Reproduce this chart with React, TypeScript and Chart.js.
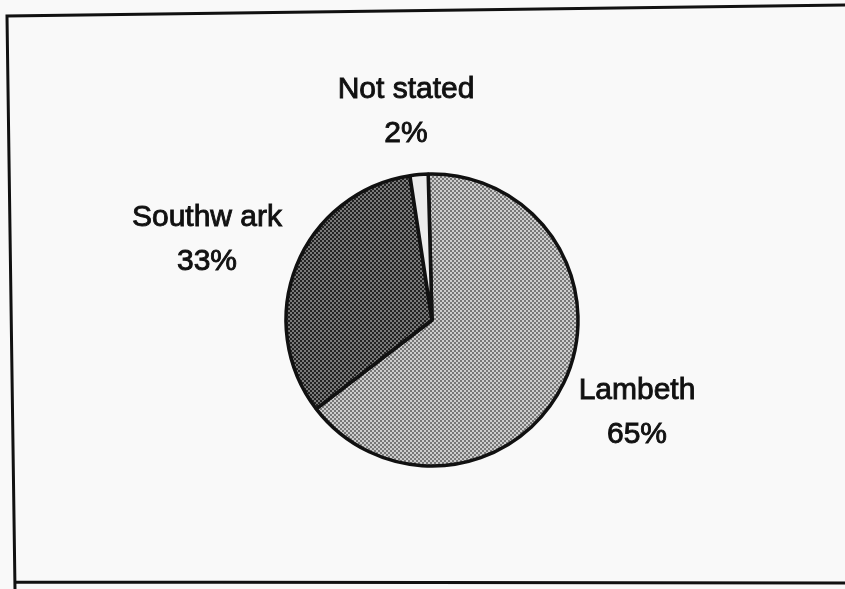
import React, { useEffect, useRef } from "react";
import { Chart, registerables } from "chart.js";

Chart.register(...registerables);

const categories = ["Lambeth", "Southw ark", "Not stated"];
const shares = [65, 33, 2];
const percentLabels = ["65%", "33%", "2%"];

function makePattern(light: string, dark: string): CanvasPattern | string {
  const tile = document.createElement("canvas");
  tile.width = 4;
  tile.height = 4;
  const c = tile.getContext("2d");
  if (!c) return light;
  c.fillStyle = light;
  c.fillRect(0, 0, 4, 4);
  c.fillStyle = dark;
  c.fillRect(0, 0, 2, 2);
  c.fillRect(2, 2, 2, 2);
  const p = c.createPattern(tile, "repeat");
  return p || light;
}

const framePlugin = {
  id: "frame",
  beforeDraw(chart: any) {
    const ctx = chart.ctx;
    ctx.save();
    ctx.fillStyle = "#f9f9f9";
    ctx.fillRect(0, 0, chart.width, chart.height);
    ctx.restore();
  },
  afterDraw(chart: any) {
    const ctx = chart.ctx;
    ctx.save();
    ctx.strokeStyle = "#111111";
    ctx.lineWidth = 3;
    ctx.beginPath();
    ctx.moveTo(850, 5);
    ctx.lineTo(7, 16);
    ctx.lineTo(15, 589);
    ctx.moveTo(15, 582);
    ctx.lineTo(850, 583);
    ctx.stroke();
    ctx.restore();
  },
};

const labelAnchors = [
  { x: 637, y: 399 },
  { x: 207, y: 226 },
  { x: 406, y: 98 },
];

const labelPlugin = {
  id: "sliceLabels",
  afterDatasetsDraw(chart: any) {
    const ctx = chart.ctx;
    const names = chart.data.labels as string[];
    ctx.save();
    ctx.fillStyle = "#111111";
    ctx.strokeStyle = "#111111";
    ctx.lineWidth = 0.9;
    ctx.font = '30px "Liberation Sans", Arial, sans-serif';
    ctx.textAlign = "center";
    ctx.textBaseline = "alphabetic";
    names.forEach((name, i) => {
      const a = labelAnchors[i];
      ctx.fillText(name, a.x, a.y);
      ctx.strokeText(name, a.x, a.y);
      ctx.fillText(percentLabels[i], a.x, a.y + 44);
      ctx.strokeText(percentLabels[i], a.x, a.y + 44);
    });
    ctx.restore();
  },
};

export default function App() {
  const ref = useRef<HTMLCanvasElement | null>(null);

  useEffect(() => {
    const canvas = ref.current;
    if (!canvas) return;
    const colors = [
      makePattern("#cdcdcd", "#767676"),
      makePattern("#7a7a7a", "#222222"),
      "#ececec",
    ];
    const chart = new Chart(canvas, {
      type: "pie",
      data: {
        labels: categories,
        datasets: [
          {
            data: shares,
            backgroundColor: colors as any,
            borderColor: "#111111",
            borderWidth: 3.5,
            hoverOffset: 0,
          },
        ],
      },
      options: {
        responsive: false,
        animation: false,
        devicePixelRatio: 1,
        rotation: -1.5,
        radius: 146,
        layout: { padding: { left: 20, right: 1, top: 51, bottom: 0 } },
        plugins: {
          legend: { display: false },
          tooltip: { enabled: false },
          title: { display: false },
        },
        events: [],
      } as any,
      plugins: [framePlugin, labelPlugin],
    });
    return () => chart.destroy();
  }, []);

  return (
    <div style={{ position: "fixed", left: 0, top: 0, width: 845, height: 589, background: "#f9f9f9" }}>
      <canvas ref={ref} width={845} height={589} style={{ display: "block", width: 845, height: 589 }} />
    </div>
  );
}
